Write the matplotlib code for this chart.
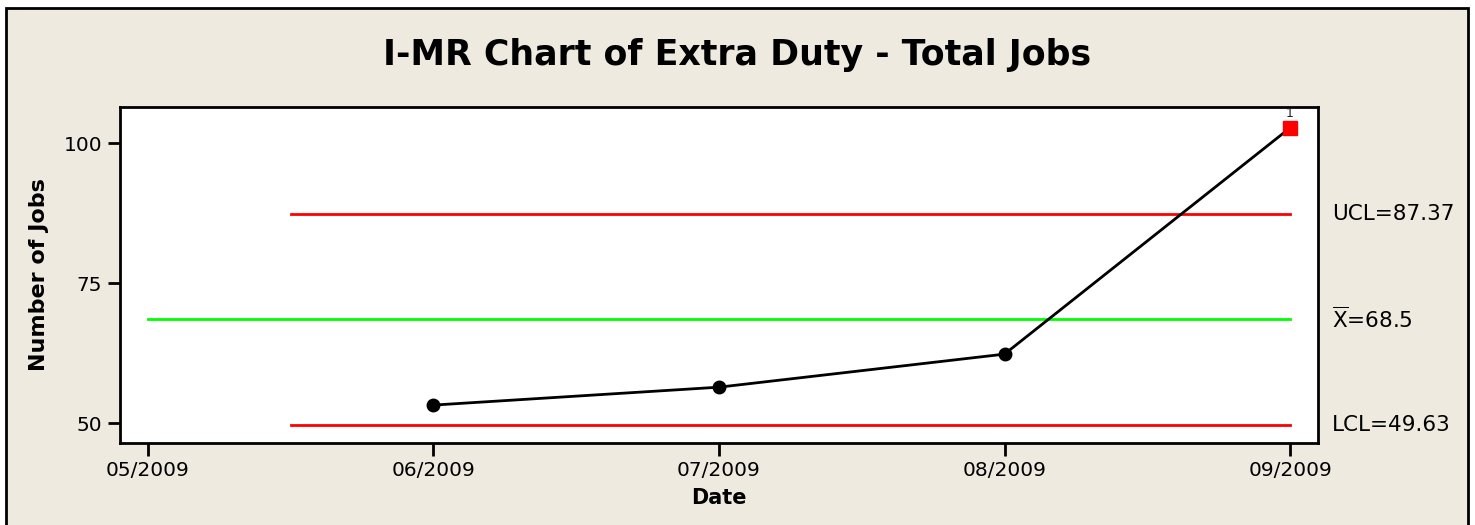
import matplotlib.pyplot as plt
from matplotlib.patches import Rectangle

months = ['05/2009', '06/2009', '07/2009', '08/2009', '09/2009']
jobs = [None, 53.2, 56.4, 62.3, 102.7]
mean_x = 68.5
ucl = 87.37
lcl = 49.63

bg = '#eeeae0'


def main():
    fig = plt.figure(figsize=(14.75, 5.25), dpi=100, facecolor='white')
    fig.patches.append(Rectangle((6 / 1475, -0.1), 1462 / 1475, 1 - 8 / 525 + 0.1,
                                 transform=fig.transFigure, facecolor=bg,
                                 edgecolor='black', linewidth=2, zorder=-10))

    ax = fig.add_axes([120 / 1475, 1 - 443 / 525, 1198 / 1475, 336 / 525])
    ax.set_facecolor('white')

    xs = [i for i, v in enumerate(jobs) if v is not None]
    ys = [v for v in jobs if v is not None]

    ax.plot([0, len(months) - 1], [mean_x, mean_x], color='#00ff00', lw=2, zorder=2)
    ax.plot([0.5, len(months) - 1], [ucl, ucl], color='#ff0000', lw=2, zorder=2)
    ax.plot([0.5, len(months) - 1], [lcl, lcl], color='#ff0000', lw=2, zorder=2)

    ax.plot(xs, ys, color='black', lw=2, zorder=3)
    ax.plot(xs[:-1], ys[:-1], 'o', color='black', ms=9, zorder=4)
    ax.plot(xs[-1], ys[-1], 's', color='#ff0000', ms=10, zorder=4)
    ax.annotate('1', (xs[-1], ys[-1]), xytext=(0, 6), textcoords='offset points',
                ha='center', va='bottom', fontsize=9, color='#222222')

    ax.set_xlim(-0.098, 4.098)
    ax.set_ylim(46.43, 106.43)
    ax.set_xticks(range(len(months)))
    ax.set_xticklabels(months)
    ax.set_yticks([50, 75, 100])

    for s in ax.spines.values():
        s.set_linewidth(2)
    ax.tick_params(direction='out', length=9, width=2, labelsize=14.5, pad=4)

    ax.set_xlabel('Date', fontsize=15, fontweight='bold', labelpad=6)
    ax.set_ylabel('Number of Jobs', fontsize=16, fontweight='bold', labelpad=10)

    for val, txt in [(ucl, 'UCL=87.37'), (mean_x, r'$\overline{\mathrm{X}}$=68.5'),
                     (lcl, 'LCL=49.63')]:
        ax.annotate(txt, (1, val), xycoords=('axes fraction', 'data'),
                    xytext=(10, 0), textcoords='offset points',
                    ha='left', va='center', fontsize=15.5)

    fig.text(737 / 1475, 1 - 55 / 525, 'I-MR Chart of Extra Duty - Total Jobs',
             ha='center', va='center', fontsize=25, fontweight='bold')

    fig.savefig('out.png', dpi=100, facecolor='white')


if __name__ == '__main__':
    main()
